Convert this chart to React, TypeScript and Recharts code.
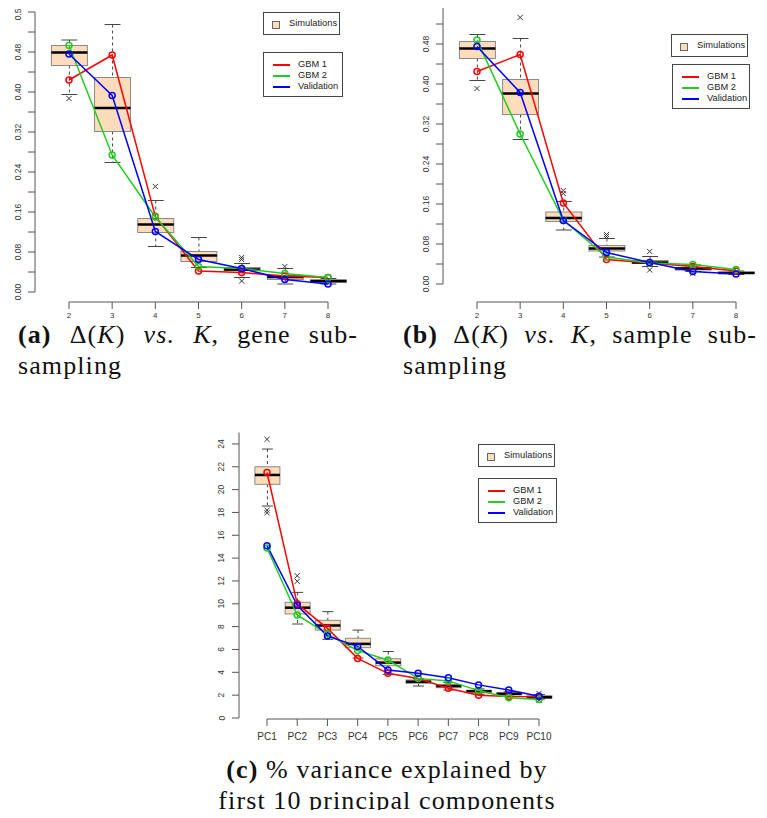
import { Bar, ComposedChart, Line, ReferenceLine, XAxis, YAxis } from "recharts"

// panel (a): Delta(K) vs K, gene sub-sampling
const kCats = ["2", "3", "4", "5", "6", "7", "8"]
const aLo = [0.395, 0.259, 0.091, 0.049, 0.029, 0.016, 0.016]
const aQ1 = [0.453, 0.321, 0.119, 0.061, 0.043, 0.025, 0.019]
const aMed = [0.479, 0.368, 0.135, 0.073, 0.045, 0.030, 0.022]
const aQ3 = [0.493, 0.429, 0.147, 0.081, 0.049, 0.033, 0.024]
const aHi = [0.504, 0.535, 0.183, 0.109, 0.057, 0.047, 0.027]
const aOut = [[0.387], [], [0.211], [], [0.069, 0.065, 0.022], [0.051], []]
const aGbm1 = [0.424, 0.474, 0.151, 0.042, 0.039, 0.032, 0.029]
const aGbm2 = [0.493, 0.274, 0.150, 0.051, 0.047, 0.037, 0.029]
const aValid = [0.476, 0.393, 0.121, 0.065, 0.047, 0.025, 0.016]

// panel (b): Delta(K) vs K, sample sub-sampling
const bLo = [0.407, 0.289, 0.108, 0.054, 0.035, 0.025, 0.019]
const bQ1 = [0.451, 0.339, 0.125, 0.066, 0.041, 0.028, 0.021]
const bMed = [0.471, 0.381, 0.132, 0.071, 0.043, 0.031, 0.022]
const bQ3 = [0.485, 0.409, 0.144, 0.077, 0.047, 0.033, 0.024]
const bHi = [0.499, 0.491, 0.165, 0.091, 0.055, 0.038, 0.026]
const bOut = [[0.391], [0.533], [0.187, 0.181], [0.099, 0.095], [0.065, 0.028], [0.021], []]
const bGbm1 = [0.425, 0.459, 0.162, 0.049, 0.042, 0.035, 0.026]
const bGbm2 = [0.488, 0.300, 0.128, 0.054, 0.042, 0.039, 0.029]
const bValid = [0.475, 0.383, 0.127, 0.063, 0.043, 0.025, 0.020]

// panel (c): % variance explained by first 10 PCs
const pcCats = ["PC1", "PC2", "PC3", "PC4", "PC5", "PC6", "PC7", "PC8", "PC9", "PC10"]
const cLo = [18.56, 8.23, 6.89, 5.25, 3.82, 2.80, 2.45, 2.05, 1.90, 1.65]
const cQ1 = [20.46, 9.11, 7.70, 6.16, 4.58, 3.04, 2.65, 2.20, 2.02, 1.72]
const cMed = [21.28, 9.66, 8.10, 6.49, 4.85, 3.18, 2.80, 2.35, 2.12, 1.82]
const cQ3 = [22.0, 10.13, 8.55, 6.98, 5.19, 3.33, 2.92, 2.42, 2.20, 1.95]
const cHi = [23.55, 11.0, 9.31, 7.70, 5.82, 3.45, 3.10, 2.55, 2.30, 2.05]
const cOut = [[24.4, 18.2, 17.97], [12.46, 11.97], [], [], [], [], [], [], [], [2.15, 1.55]]
const cGbm1 = [21.5, 10.0, 7.85, 5.22, 3.91, 3.45, 2.6, 1.99, 1.88, 1.85]
const cGbm2 = [14.89, 9.02, 7.35, 5.9, 5.08, 3.47, 3.25, 2.4, 1.78, 1.63]
const cValid = [15.09, 9.87, 7.18, 6.27, 4.2, 3.91, 3.53, 2.9, 2.45, 1.9]

const deltaTicksA = [0, 0.04, 0.08, 0.12, 0.16, 0.2, 0.24, 0.28, 0.32, 0.36, 0.4, 0.44, 0.48, 0.52, 0.56]
const deltaTicksB = [0, 0.04, 0.08, 0.12, 0.16, 0.2, 0.24, 0.28, 0.32, 0.36, 0.4, 0.44, 0.48, 0.52]
const pcTicks = [0, 2, 4, 6, 8, 10, 12, 14, 16, 18, 20, 22, 24]

const RED = "#ff0000"
const GREEN = "#1fcc1f"
const BLUE = "#0000ff"
const AXIS = "#555"
const BOX_FILL = "#fddcbc"
const SANS = "'Liberation Sans', Arial, sans-serif"
const SERIF = "'Liberation Serif', 'Times New Roman', serif"

function buildRows(cats, lo, q1, med, q3, hi, out, g1, g2, va) {
  return cats.map((k, i) => ({
    k,
    lo: lo[i],
    q1: q1[i],
    med: med[i],
    q3: q3[i],
    hi: hi[i],
    o0: out[i][0] ?? null,
    o1: out[i][1] ?? null,
    o2: out[i][2] ?? null,
    gbm1: g1[i],
    gbm2: g2[i],
    valid: va[i],
  }))
}

const rowsA = buildRows(kCats, aLo, aQ1, aMed, aQ3, aHi, aOut, aGbm1, aGbm2, aValid)
const rowsB = buildRows(kCats, bLo, bQ1, bMed, bQ3, bHi, bOut, bGbm1, bGbm2, bValid)
const rowsC = buildRows(pcCats, cLo, cQ1, cMed, cQ3, cHi, cOut, cGbm1, cGbm2, cValid)

// the bar spans the whisker range; the rest of the box is placed inside it
function BoxShape(props: any) {
  const { x, y, width, height, payload } = props
  const top = Math.min(y, y + height)
  const bot = Math.max(y, y + height)
  const span = payload.hi - payload.lo
  const py = (v: number) => bot - ((v - payload.lo) / span) * (bot - top)
  const cx = x + width / 2
  const cap = width * 0.22
  return (
    <g>
      <line x1={cx} x2={cx} y1={py(payload.hi)} y2={py(payload.q3)} stroke="#444" strokeDasharray="3 3" />
      <line x1={cx} x2={cx} y1={py(payload.q1)} y2={py(payload.lo)} stroke="#444" strokeDasharray="3 3" />
      <line x1={cx - cap} x2={cx + cap} y1={py(payload.hi)} y2={py(payload.hi)} stroke="#444" />
      <line x1={cx - cap} x2={cx + cap} y1={py(payload.lo)} y2={py(payload.lo)} stroke="#444" />
      <rect x={x} y={py(payload.q3)} width={width} height={py(payload.q1) - py(payload.q3)} fill={BOX_FILL} stroke="#8a8a8a" />
      <line x1={x} x2={x + width} y1={py(payload.med)} y2={py(payload.med)} stroke="#000" strokeWidth={2.5} />
    </g>
  )
}

function OutlierDot(props: any) {
  const { cx, cy, value, index } = props
  if (value == null || cy == null) return <g key={index} />
  const s = 2.6
  return (
    <g key={index} stroke="#333" strokeWidth={1}>
      <line x1={cx - s} y1={cy - s} x2={cx + s} y2={cy + s} />
      <line x1={cx - s} y1={cy + s} x2={cx + s} y2={cy - s} />
    </g>
  )
}

function YTick(props: any) {
  const { x, y, payload, labelStep, digits, fontSize } = props
  const v = payload.value
  const r = v / labelStep
  if (Math.abs(r - Math.round(r)) > 1e-6) return <g />
  const lx = x - 10.5
  return (
    <text x={lx} y={y} transform={`rotate(-90 ${lx} ${y})`} textAnchor="middle" dominantBaseline="central"
      fontSize={fontSize} fontFamily={SANS} fill="#333">
      {v.toFixed(digits)}
    </text>
  )
}

function XTick(props: any) {
  const { x, y, payload, off, labelOff, fontSize } = props
  return (
    <g>
      <line x1={x} x2={x} y1={y + off} y2={y + off + 7} stroke={AXIS} />
      <text x={x} y={y + labelOff} textAnchor="middle" dominantBaseline="central" fontSize={fontSize} fontFamily={SANS} fill="#333">
        {payload.value}
      </text>
    </g>
  )
}

function BoxPanel(p: any) {
  const cats = p.rows.map((r) => r.k)
  return (
    <div style={{ position: "absolute", left: p.left, top: p.top }}>
      <ComposedChart width={p.width} height={p.height} data={p.rows}
        margin={{ top: p.marginTop, right: p.marginRight, bottom: 0, left: 0 }}>
        <XAxis dataKey="k" type="category" interval={0} padding={{ left: p.padLeft, right: 0 }}
          axisLine={false} tickLine={false} tickSize={0} tickMargin={0} height={p.xAxisHeight}
          tick={(t) => <XTick {...t} off={p.axisOff} labelOff={p.labelOff} fontSize={p.xFont} />} />
        <YAxis type="number" domain={[0, p.yMax]} ticks={p.yTicks} interval={0} width={35}
          tickSize={7} tickMargin={0} axisLine={{ stroke: AXIS }} tickLine={{ stroke: AXIS }}
          tick={(t) => <YTick {...t} labelStep={p.labelStep} digits={p.digits} fontSize={p.yFont} />} />
        <ReferenceLine segment={[{ x: cats[0], y: 0 }, { x: cats[cats.length - 1], y: 0 }]}
          shape={(s) => <line x1={s.x1} y1={s.y1 + p.axisOff} x2={s.x2} y2={s.y2 + p.axisOff} stroke={AXIS} />} />
        <Bar dataKey={(d) => [d.lo, d.hi]} barSize={p.barSize} shape={BoxShape} isAnimationActive={false} />
        {["o0", "o1", "o2"].map((key) => (
          <Line key={key} dataKey={key} stroke="none" dot={OutlierDot} activeDot={false} isAnimationActive={false} />
        ))}
        <Line dataKey="gbm1" stroke={RED} strokeWidth={1.5} dot={{ r: 3, fill: "none", stroke: RED, strokeWidth: 1.5 }} isAnimationActive={false} />
        <Line dataKey="gbm2" stroke={GREEN} strokeWidth={1.5} dot={{ r: 3, fill: "none", stroke: GREEN, strokeWidth: 1.5 }} isAnimationActive={false} />
        <Line dataKey="valid" stroke={BLUE} strokeWidth={1.5} dot={{ r: 3, fill: "none", stroke: BLUE, strokeWidth: 1.5 }} isAnimationActive={false} />
      </ComposedChart>
    </div>
  )
}

function Legends({ simLeft, simTop, gbmLeft, gbmTop, gbmWidth }) {
  const boxStyle = { position: "absolute" as const, border: "1px solid #444", background: "#fff", fontFamily: SANS, fontSize: 9.3, color: "#222", boxSizing: "border-box" as const }
  const rows = [["GBM 1", RED], ["GBM 2", GREEN], ["Validation", BLUE]]
  return (
    <>
      <div style={{ ...boxStyle, left: simLeft, top: simTop, width: 77, height: 23 }}>
        <div style={{ position: "absolute", left: 8, top: 8, width: 6, height: 6, background: BOX_FILL, border: "1px solid #666" }} />
        <div style={{ position: "absolute", left: 25, top: 0, lineHeight: "21px" }}>Simulations</div>
      </div>
      <div style={{ ...boxStyle, left: gbmLeft, top: gbmTop, width: gbmWidth, height: 45 }}>
        {rows.map(([name, color], i) => (
          <div key={name} style={{ position: "absolute", left: 0, top: 6 + i * 11, height: 11, width: "100%" }}>
            <div style={{ position: "absolute", left: 9, top: 5, width: 17, height: 1.5, background: color }} />
            <div style={{ position: "absolute", left: 34, top: 0, lineHeight: "11px" }}>{name}</div>
          </div>
        ))}
      </div>
    </>
  )
}

const capStyle = { position: "absolute" as const, fontFamily: SERIF, fontSize: 26, letterSpacing: 1.1, lineHeight: "31px", color: "#111", whiteSpace: "nowrap" as const }

export default function App() {
  return (
    <div style={{ position: "relative", width: 767, height: 818, margin: -8, background: "#fff", overflow: "hidden" }}>
      <BoxPanel rows={rowsA} left={0} top={-12} width={380} height={342} marginTop={24} marginRight={30.4}
        xAxisHeight={38} padLeft={12.4} yMax={0.56} yTicks={deltaTicksA} labelStep={0.08} digits={2}
        barSize={36} axisOff={10} labelOff={23} xFont={8} yFont={8.5} />
      <BoxPanel rows={rowsB} left={408} top={-12} width={359} height={342} marginTop={20} marginRight={9.4}
        xAxisHeight={46} padLeft={12.4} yMax={0.552} yTicks={deltaTicksB} labelStep={0.08} digits={2}
        barSize={36} axisOff={18} labelOff={31} xFont={8} yFont={8.5} />
      <BoxPanel rows={rowsC} left={204} top={420} width={366} height={330} marginTop={12.5} marginRight={15.9}
        xAxisHeight={32} padLeft={12.9} yMax={25} yTicks={pcTicks} labelStep={2} digits={0}
        barSize={25} axisOff={1} labelOff={18} xFont={10} yFont={8.5} />

      <Legends simLeft={263} simTop={12} gbmLeft={263} gbmTop={52} gbmWidth={80} />
      <Legends simLeft={671} simTop={34} gbmLeft={672} gbmTop={64} gbmWidth={78} />
      <Legends simLeft={478} simTop={444} gbmLeft={478} gbmTop={478} gbmWidth={79} />

      <div style={{ ...capStyle, left: 18, top: 319 }}>
        <div style={{ width: 340, textAlign: "justify", textAlignLast: "justify" }}>
          <b>(a)</b> Δ(<i>K</i>) <i>vs.</i> <i>K</i>, gene sub-
        </div>
        <div>sampling</div>
      </div>
      <div style={{ ...capStyle, left: 403, top: 319 }}>
        <div style={{ width: 354, textAlign: "justify", textAlignLast: "justify" }}>
          <b>(b)</b> Δ(<i>K</i>) <i>vs.</i> <i>K</i>, sample sub-
        </div>
        <div>sampling</div>
      </div>
      <div style={{ ...capStyle, left: 187, top: 754, width: 400, textAlign: "center" }}>
        <div><b>(c)</b> % variance explained by</div>
        <div>first 10 principal components</div>
      </div>
    </div>
  )
}
